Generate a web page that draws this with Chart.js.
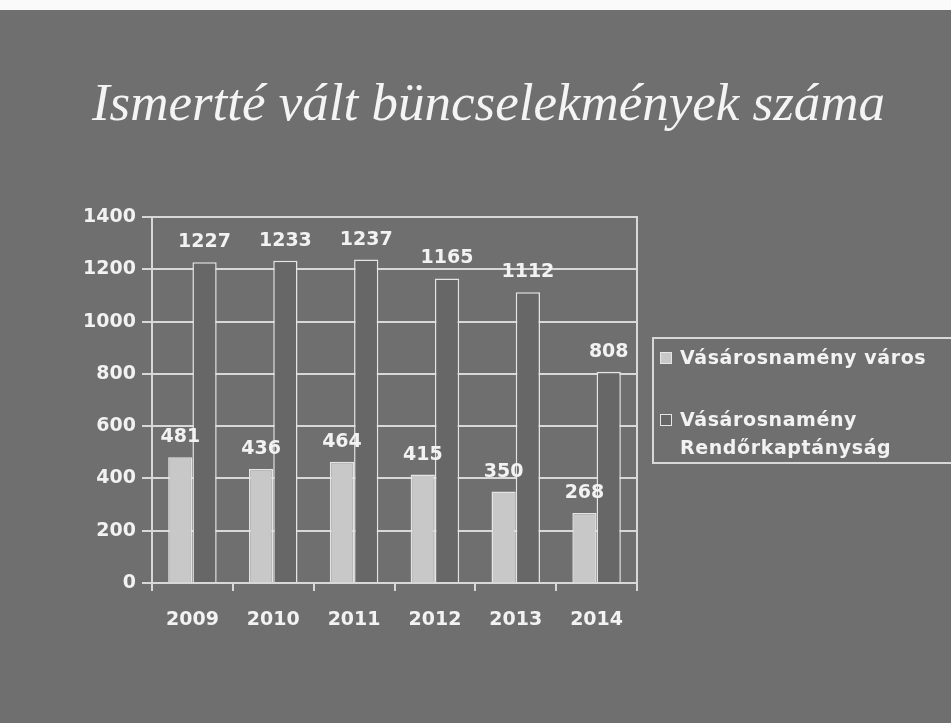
<!DOCTYPE html>
<html lang="hu">
<head>
<meta charset="utf-8">
<title>Ismertté vált büncselekmények száma</title>
<script src="https://cdn.jsdelivr.net/npm/chart.js@4.4.1/dist/chart.umd.min.js"></script>
<style>
  html, body { margin: 0; padding: 0; }
  body { width: 951px; height: 723px; overflow: hidden; position: relative; background: #6f6f6f; }
  #strip { position: absolute; left: 0; top: 0; width: 951px; height: 10px; background: #fafafa; }
  #title {
    position: absolute; left: 0; right: 0; top: 72px; margin: 0;
    text-align: center; color: #f4f4f4;
    font: italic 53px "Liberation Serif", "DejaVu Serif", serif;
    padding-left: 26px;
  }
  #wrap { position: absolute; left: 0; top: 0; width: 951px; height: 723px; }
  #legend {
    position: absolute; left: 652px; top: 337px; width: 310px; height: 127px;
    border: 2px solid #d8d8d8; box-sizing: border-box;
    font: bold 19px "DejaVu Sans", sans-serif; color: #f2f2f2; letter-spacing: 0.6px;
  }
  .item { position: absolute; left: 26px; line-height: 28px; white-space: nowrap; }
  .sw { position: absolute; left: -20px; top: 9px; width: 10px; height: 10px; border: 1px solid #e6e6e6; }
</style>
</head>
<body>
<div id="strip"></div>
<h1 id="title">Ismertté vált büncselekmények száma</h1>
<div id="wrap"><canvas id="chart" width="951" height="723"></canvas></div>
<div id="legend"></div>
<script>
// adatok
const years = ['2009', '2010', '2011', '2012', '2013', '2014'];
const varos = [481, 436, 464, 415, 350, 268];
const rendorkapitanysag = [1227, 1233, 1237, 1165, 1112, 808];
const seriesNames = ['Vásárosnamény város', ['Vásárosnamény', 'Rendőrkaptányság']];
const yTicks = [0, 200, 400, 600, 800, 1000, 1200, 1400];

const light = '#c8c8c8';
const dark = '#676767';
const edge = '#e4e4e4';
const txt = '#f2f2f2';
const font = '"DejaVu Sans", sans-serif';

// értékek a hasábok fölé
const valueLabels = {
  id: 'valueLabels',
  afterDatasetsDraw(chart) {
    const ctx = chart.ctx;
    ctx.save();
    ctx.font = 'bold 19px ' + font;
    ctx.fillStyle = txt;
    ctx.textAlign = 'center';
    ctx.textBaseline = 'alphabetic';
    chart.data.datasets.forEach((ds, i) => {
      chart.getDatasetMeta(i).data.forEach((bar, j) => {
        ctx.fillText(String(ds.data[j]), bar.x, bar.y - 15);
      });
    });
    ctx.restore();
  }
};

// keret a rajzterület körül
const frame = {
  id: 'frame',
  beforeDatasetsDraw(chart) {
    const a = chart.chartArea;
    const ctx = chart.ctx;
    ctx.save();
    ctx.strokeStyle = '#d8d8d8';
    ctx.lineWidth = 2;
    ctx.beginPath();
    ctx.moveTo(a.left, a.top);
    ctx.lineTo(a.right, a.top);
    ctx.lineTo(a.right, a.bottom);
    ctx.stroke();
    ctx.restore();
  }
};

const chart = new Chart(document.getElementById('chart'), {
  type: 'bar',
  data: {
    labels: years,
    datasets: [
      { label: seriesNames[0], data: varos, backgroundColor: light, borderColor: edge, borderWidth: 1.5 },
      { label: seriesNames[1], data: rendorkapitanysag, backgroundColor: dark, borderColor: edge, borderWidth: 1.5 },
    ],
  },
  options: {
    responsive: false,
    animation: false,
    layout: { padding: { top: 217, right: 314, bottom: 90, left: 50 } },
    datasets: { bar: { categoryPercentage: 0.6, barPercentage: 1 } },
    plugins: { legend: { display: false }, title: { display: false }, tooltip: { enabled: false } },
    scales: {
      x: {
        grid: { drawOnChartArea: false, drawTicks: true, tickLength: 8, color: '#d8d8d8', lineWidth: 2 },
        border: { color: '#d8d8d8', width: 2 },
        ticks: { color: txt, font: { family: font, size: 19, weight: 'bold' }, padding: 18 },
        afterFit(s) { s.height = 50; },
      },
      y: {
        min: 0, max: 1400,
        afterBuildTicks(s) { s.ticks = yTicks.map(v => ({ value: v })); },
        grid: { color: '#d8d8d8', lineWidth: 2, tickLength: 10 },
        border: { color: '#d8d8d8', width: 2 },
        ticks: { color: txt, font: { family: font, size: 19, weight: 'bold' }, padding: 6, callback: v => String(v) },
        afterFit(s) { s.width = 102; },
      },
    },
  },
  plugins: [frame, valueLabels],
});

// jelmagyarázat
const legend = document.getElementById('legend');
const tops = [4, 66];
chart.data.datasets.forEach((ds, i) => {
  const el = document.createElement('div');
  el.className = 'item';
  el.style.top = tops[i] + 'px';
  const sw = document.createElement('span');
  sw.className = 'sw';
  sw.style.background = ds.backgroundColor;
  el.appendChild(sw);
  const lines = Array.isArray(ds.label) ? ds.label : [ds.label];
  lines.forEach((t, k) => {
    if (k) el.appendChild(document.createElement('br'));
    el.appendChild(document.createTextNode(t));
  });
  legend.appendChild(el);
});
</script>
</body>
</html>
